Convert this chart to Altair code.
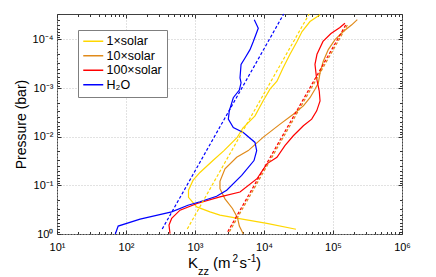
import json
import pandas as pd
import altair as alt

FONT = "Liberation Sans"

# ---------------- data ----------------
series_names = ["1×solar", "10×solar", "100×solar", "H₂O"]
series_colors = ["#FFD700", "#E08A1A", "#FF0000", "#0000FF"]

# solid Kzz profiles: Kzz (m^2 s^-1) vs pressure (bar)
k_1x = [64900, 46400, 35600, 30100, 23800, 18800, 15400, 12200, 9680, 7410,
        4970, 4060, 2630, 1820, 1180, 935, 805, 805, 1060, 1650, 2300, 4200,
        11000, 29100]
p_1x = [3.1e-5, 4.29e-5, 6.87e-5, 1.10e-4, 2.02e-4, 3.91e-4, 7.20e-4, 1.05e-3,
        1.84e-3, 3.73e-3, 6.55e-3, 1.05e-2, 1.93e-2, 3.09e-2, 5.43e-2, 7.91e-2,
        0.126, 0.176, 0.277, 0.351, 0.409, 0.478, 0.605, 0.80]

k_10x = [225000, 187000, 141000, 107000, 85500, 72300, 64900, 61300, 54800,
         46400, 37200, 26600, 17100, 9680, 5920, 4020, 2720, 2300, 2300, 2720,
         3490, 4130, 4390, 5010]
p_10x = [3.91e-5, 5.01e-5, 6.87e-5, 1.01e-4, 1.62e-4, 2.81e-4, 4.87e-4, 7.91e-4,
         1.06e-3, 1.58e-3, 2.33e-3, 3.44e-3, 5.51e-3, 1.03e-2, 1.93e-2, 2.64e-2,
         4.56e-2, 8.28e-2, 0.117, 0.189, 0.299, 0.461, 0.687, 1.0]

k_100x = [149000, 126000, 93500, 71600, 58600, 54800, 57700, 63200, 64900,
          58100, 49100, 37200, 26600, 20100, 15400, 11000, 7920, 4490, 2300,
          1070, 607, 459, 420, 434]
p_100x = [4.65e-5, 5.69e-5, 7.55e-5, 1.10e-4, 2.02e-4, 3.24e-4, 6.17e-4, 1.15e-3,
          1.84e-3, 2.94e-3, 4.36e-3, 5.97e-3, 9.55e-3, 1.53e-2, 2.64e-2, 3.61e-2,
          7.30e-2, 0.137, 0.172, 0.236, 0.324, 0.478, 0.655, 0.98]

k_h2o = [7230, 8260, 7000, 6270, 5310, 4650, 4490, 4650, 4390, 3590, 3140, 3040,
         3590, 5010, 7410, 7830, 7160, 4750, 2880, 2060, 1180, 790, 459, 160, 77, 70]
p_h2o = [3.96e-5, 5.87e-5, 1.10e-4, 1.62e-4, 2.41e-4, 3.28e-4, 6.17e-4, 7.80e-4,
         1.10e-3, 1.58e-3, 2.94e-3, 4.36e-3, 6.46e-3, 8.17e-3, 1.31e-2, 1.93e-2,
         3.09e-2, 6.25e-2, 0.126, 0.168, 0.217, 0.256, 0.351, 0.494, 0.687, 1.0]

# dashed reference profiles (straight in log-log): end points
kd_1x = [773, 45100]
pd_1x = [0.79, 3.0e-5]
kd_10x = [3150, 167000]
pd_10x = [0.90, 4.65e-5]
kd_100x = [2980, 158000]
pd_100x = [0.90, 4.65e-5]
kd_h2o = [335, 19300]
pd_h2o = [0.79, 3.0e-5]

# axes
x_domain = [10, 1e6]
y_domain = [3e-5, 1]
x_major = [10, 100, 1000, 1e4, 1e5, 1e6]
x_labels = ["10¹", "10²", "10³", "10⁴", "10⁵", "10⁶"]
y_major = [1e-4, 1e-3, 1e-2, 1e-1, 1]
y_labels = ["10⁻⁴", "10⁻³", "10⁻²", "10⁻¹", "10⁰"]
minor_mult = [1, 2, 3, 4, 5, 6, 7, 8, 9]

# ---------------- tables ----------------
def build(ks, ps):
    rows = []
    for name, col, k, p in zip(series_names, series_colors, ks, ps):
        for i, (kk, pp) in enumerate(zip(k, p)):
            rows.append({"series": name, "col": col, "K": kk, "P": pp, "i": i})
    return pd.DataFrame(rows)

solid_df = build([k_1x, k_10x, k_100x, k_h2o], [p_1x, p_10x, p_100x, p_h2o])
dash_df = build([kd_1x, kd_10x, kd_100x, kd_h2o], [pd_1x, pd_10x, pd_100x, pd_h2o])

x_ticks_all = [m * 10 ** e for e in range(1, 6) for m in minor_mult] + [1e6]
y_ticks_all = [m * 10 ** e for e in range(-5, 0) for m in minor_mult] + [1]
y_ticks_all = [v for v in y_ticks_all if y_domain[0] <= v <= y_domain[1]]

xs = alt.Scale(type="log", domain=x_domain, nice=False)
ys = alt.Scale(type="log", domain=y_domain, reverse=True, nice=False)

x_label_expr = json.dumps(x_labels) + "[round(log(datum.value)/LN10) - 1]"
y_label_expr = json.dumps(y_labels) + "[round(log(datum.value)/LN10) + 4]"

GRID = dict(grid=True, gridColor="#c4c4c4", gridDash=[1, 2], gridWidth=1)

x_axis_main = alt.Axis(values=x_major, labelExpr=x_label_expr, ticks=False,
                       domain=False, title=None, labelFont=FONT, labelFontSize=11,
                       labelColor="black", labelPadding=7, labelFlush=False,
                       labelOverlap=False, **GRID)
y_axis_main = alt.Axis(values=y_major, labelExpr=y_label_expr, ticks=False,
                       domain=False, title="Pressure (bar)", labelFont=FONT,
                       labelFontSize=11, labelColor="black", labelPadding=4,
                       labelFlush=False, labelOverlap=False,
                       titleFont=FONT, titleFontSize=14, titleFontWeight="normal",
                       titleColor="black", titlePadding=4, **GRID)

major_test = "abs(log(datum.value)/LN10 - round(log(datum.value)/LN10)) < 0.01"
tick_size = {"condition": {"test": major_test, "value": 4}, "value": 2.5}


def tick_axis(values, orient, offset):
    return alt.Axis(values=values, orient=orient, offset=offset, labels=False,
                    grid=False, domain=False, ticks=True, tickSize=tick_size,
                    tickColor="#333333", tickWidth=1, title=None)


W, H = 345, 220

solid = alt.Chart(solid_df).mark_line(strokeWidth=1.2).encode(
    x=alt.X("K:Q", scale=xs, axis=x_axis_main),
    y=alt.Y("P:Q", scale=ys, axis=y_axis_main),
    color=alt.Color("series:N",
                    scale=alt.Scale(domain=series_names, range=series_colors),
                    legend=alt.Legend(orient="none", legendX=21, legendY=16,
                                      title=None, symbolType="M-2,0H2",
                                      symbolSize=100, symbolStrokeWidth=1.5,
                                      symbolOffset=4, symbolFillColor="transparent",
                                      labelFont=FONT, labelFontSize=12.5,
                                      labelColor="black", labelOffset=7,
                                      labelExpr="datum.label + '   '",
                                      fillColor="white", strokeColor="#7f7f7f",
                                      padding=5, rowPadding=1.5)),
    order=alt.Order("i:Q"),
)

dashed = alt.Chart(dash_df).mark_line(strokeWidth=1.2, strokeDash=[3, 2]).encode(
    x=alt.X("K:Q", scale=xs, axis=None),
    y=alt.Y("P:Q", scale=ys, axis=None),
    color=alt.Color("col:N", scale=None),
    detail="series:N",
    order=alt.Order("i:Q"),
)

ticks_a = alt.Chart(solid_df).mark_point(opacity=0).encode(
    x=alt.X("K:Q", scale=xs, axis=tick_axis(x_ticks_all, "top", -H)),
    y=alt.Y("P:Q", scale=ys, axis=tick_axis(y_ticks_all, "right", -W)),
)
ticks_b = alt.Chart(solid_df).mark_point(opacity=0).encode(
    x=alt.X("K:Q", scale=xs, axis=tick_axis(x_ticks_all, "bottom", -H)),
    y=alt.Y("P:Q", scale=ys, axis=tick_axis(y_ticks_all, "left", -W)),
)

# x-axis title pieces: K_zz (m^2 s^-1)
title_text = ["K", "zz", "(m", "2", "s", "-1", ")"]
title_size = [15, 11, 15, 10, 15, 10, 15]
title_x = [131, 141, 156, 175.5, 182.5, 190.5, 199]
title_y = [253.5, 261, 253.5, 247.5, 253.5, 247.5, 253.5]

texts = [
    alt.Chart(alt.Data(values=[{}])).mark_text(
        text=t, font=FONT, fontSize=s, align="left", baseline="alphabetic",
        color="black").encode(x=alt.value(tx), y=alt.value(ty))
    for t, s, tx, ty in zip(title_text, title_size, title_x, title_y)
]

chart = alt.layer(solid, dashed, ticks_a, ticks_b, *texts).resolve_axis(
    x="independent", y="independent"
).properties(
    width=W, height=H,
    autosize=alt.AutoSizeParams(type="none"),
    padding={"left": 49, "top": 6, "right": 26, "bottom": 43},
    background="white",
).configure_view(stroke="#404040", strokeWidth=1)

chart.save("out.html", embed_options={"renderer": "svg", "actions": False})
